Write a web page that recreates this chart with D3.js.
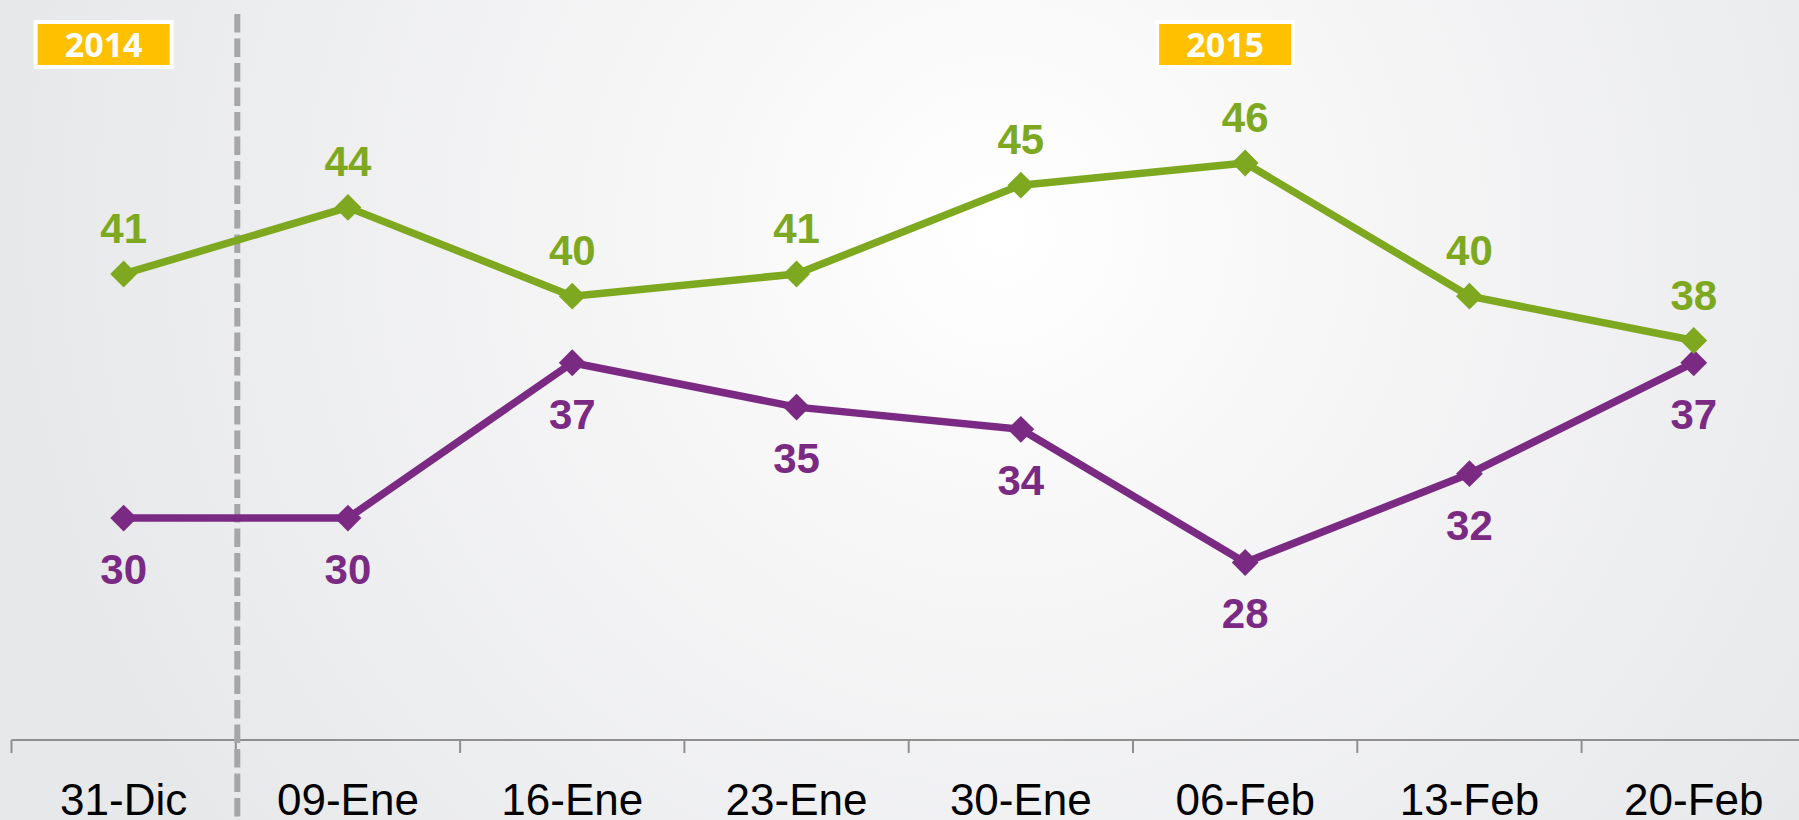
<!DOCTYPE html>
<html><head><meta charset="utf-8">
<script src="https://cdn.jsdelivr.net/npm/d3@7"></script>
<style>html,body{margin:0;padding:0;overflow:hidden;background:#ebecee;}</style>
</head><body>
<svg id="chart" width="1799" height="820"></svg>
<script>
const categories = ["31-Dic","09-Ene","16-Ene","23-Ene","30-Ene","06-Feb","13-Feb","20-Feb"];
const greenValues = [41,44,40,41,45,46,40,38];
const purpleValues = [30,30,37,35,34,28,32,37];
const yearBadges = [{label:"2014", cat:"31-Dic"},{label:"2015", cat:"06-Feb"}];

const W = 1799, H = 820;
const svg = d3.select("#chart");
const defs = svg.append("defs");
const rg = defs.append("radialGradient").attr("id","bg")
  .attr("gradientUnits","userSpaceOnUse").attr("cx",1000).attr("cy",230).attr("r",1000);
rg.append("stop").attr("offset","0%").attr("stop-color","#ffffff");
rg.append("stop").attr("offset","35%").attr("stop-color","#f6f6f7");
rg.append("stop").attr("offset","100%").attr("stop-color","#e7e8ea");
svg.append("rect").attr("width",W).attr("height",H).attr("fill","url(#bg)");

const x = d3.scaleBand().domain(categories).range([11.5, 11.5 + 8*224.3]).padding(0);
const y = d3.scaleLinear().domain([20,46]).range([740,163]);
const cx = c => x(c) + x.bandwidth()/2;

// axis
const axisY = y(20);
svg.append("line").attr("x1",x(categories[0])).attr("x2",W).attr("y1",axisY).attr("y2",axisY)
  .attr("stroke","#8f8f8f").attr("stroke-width",2);
svg.selectAll(".tick").data(categories).enter().append("line")
  .attr("x1",d=>x(d)).attr("x2",d=>x(d)).attr("y1",axisY).attr("y2",axisY+13)
  .attr("stroke","#8f8f8f").attr("stroke-width",2);
svg.selectAll(".xlab").data(categories).enter().append("text")
  .attr("x",d=>cx(d)).attr("y",815).attr("text-anchor","middle")
  .attr("font-family","Liberation Sans, Arial, sans-serif").attr("font-size",44)
  .attr("fill","#000").text(d=>d);

// divider
const divX = x(categories[1]) + 1.5;
svg.append("line").attr("x1",divX).attr("x2",divX).attr("y1",14).attr("y2",H)
  .attr("stroke","#a6a6a6").attr("stroke-width",6).attr("stroke-dasharray","18.5,6");

// badges
yearBadges.forEach(b => {
  const bx = cx(b.cat) - 20;
  const g = svg.append("g");
  g.append("rect").attr("x",bx-70).attr("y",20).attr("width",140).attr("height",49).attr("fill","#ffffff");
  g.append("rect").attr("x",bx-66).attr("y",24).attr("width",132).attr("height",41).attr("fill","#FFC000");
  g.append("text").attr("x",bx).attr("y",57).attr("text-anchor","middle")
    .attr("font-family","Open Sans, sans-serif").attr("font-weight",700).attr("font-size",34)
    .attr("fill","#ffffff").text(b.label);
});

function drawSeries(values, color, above) {
  const data = categories.map((c,i)=>({c, v: values[i]}));
  svg.append("path").datum(data)
    .attr("d", d3.line().x(d=>cx(d.c)).y(d=>y(d.v)))
    .attr("fill","none").attr("stroke",color).attr("stroke-width",7.5).attr("stroke-linejoin","round");
  svg.selectAll(null).data(data).enter().append("path")
    .attr("d", d3.symbol().type(d3.symbolSquare).size(360)())
    .attr("transform", d=>`translate(${cx(d.c)},${y(d.v)}) rotate(45)`)
    .attr("fill",color);
  svg.selectAll(null).data(data).enter().append("text")
    .attr("x",d=>cx(d.c)).attr("y",d=> above ? y(d.v)-31 : y(d.v)+66)
    .attr("text-anchor","middle").attr("font-family","Liberation Sans, Arial, sans-serif")
    .attr("font-weight",700).attr("font-size",42).attr("fill",color).text(d=>d.v);
}
drawSeries(purpleValues, "#7B2A84", false);
drawSeries(greenValues, "#7DA81F", true);
</script>
</body></html>
